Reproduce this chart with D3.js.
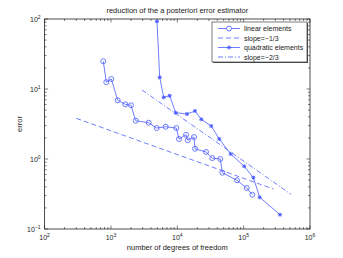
<!DOCTYPE html>
<html>
<head>
<meta charset="utf-8">
<script src="https://cdn.jsdelivr.net/npm/d3@7"></script>
<style>
  body { margin: 0; background: #fff; }
  svg text { font-family: "Liberation Sans", "DejaVu Sans", sans-serif; fill: #222; }
</style>
</head>
<body>
<div id="chart"></div>
<script>
// degrees of freedom / error
var linDofs = [767, 851, 1012, 1264, 1645, 2005, 2360, 3707, 4894, 6690, 9660, 10600, 13530, 14350, 17860, 18500, 27100, 33700, 44500, 47700, 79400, 111000, 135000];
var linErr  = [24.9, 12.5, 13.9, 6.9, 6.04, 5.85, 3.52, 3.30, 2.77, 2.89, 2.77, 1.93, 2.22, 1.85, 2.06, 1.40, 1.26, 1.03, 1.0, 0.637, 0.496, 0.385, 0.309];
var quadDofs = [4940, 5430, 6240, 7680, 9460, 14000, 18500, 23000, 32500, 42900, 63800, 102000, 140000, 174500, 353000];
var quadErr  = [92.6, 14.7, 7.61, 8.01, 4.58, 4.39, 4.85, 3.69, 2.96, 1.93, 1.18, 0.787, 0.541, 0.284, 0.16];
// reference slopes (end points)
var slope1Dofs = [300, 280000];
var slope1Err  = [3.81, 0.373];
var slope2Dofs = [2940, 518000];
var slope2Err  = [9.68, 0.313];

var xTicks = [1e2, 1e3, 1e4, 1e5, 1e6];
var yTicks = [1e-1, 1e0, 1e1, 1e2];
var legendLabels = ["linear elements", "slope=\u22121/3", "quadratic elements", "slope=\u22122/3"];

var W = 343, H = 258;
var margin = {top: 19, right: 33, bottom: 29, left: 44.6};
var width = W - margin.left - margin.right,
    height = H - margin.top - margin.bottom;
var blue = "#4a5cff";

var svg = d3.select("#chart").append("svg")
  .attr("width", W)
  .attr("height", H);

var g = svg.append("g")
  .attr("transform", "translate(" + margin.left + "," + margin.top + ")");

var x = d3.scaleLog().domain([1e2, 1e6]).range([0, width]);
var y = d3.scaleLog().domain([1e-1, 1e2]).range([height, 0]);

// minor ticks
var xMinor = [], yMinor = [];
for (var e = 2; e < 6; e++) for (var k = 2; k < 10; k++) xMinor.push(k * Math.pow(10, e));
for (var e = -1; e < 2; e++) for (var k = 2; k < 10; k++) yMinor.push(k * Math.pow(10, e));

function tickLines(vals, len, major) {
  vals.forEach(function(v) {
    var px = x(v);
    g.append("line").attr("x1", px).attr("x2", px).attr("y1", height).attr("y2", height - len)
      .attr("stroke", "#222").attr("stroke-width", 0.6);
    g.append("line").attr("x1", px).attr("x2", px).attr("y1", 0).attr("y2", len)
      .attr("stroke", "#222").attr("stroke-width", 0.6);
  });
}
function tickLinesY(vals, len) {
  vals.forEach(function(v) {
    var py = y(v);
    g.append("line").attr("y1", py).attr("y2", py).attr("x1", 0).attr("x2", len)
      .attr("stroke", "#222").attr("stroke-width", 0.6);
    g.append("line").attr("y1", py).attr("y2", py).attr("x1", width).attr("x2", width - len)
      .attr("stroke", "#222").attr("stroke-width", 0.6);
  });
}
tickLines(xMinor, 2);
tickLines(xTicks, 3.5);
tickLinesY(yMinor, 2);
tickLinesY(yTicks, 3.5);

// box
g.append("rect").attr("x", 0).attr("y", 0).attr("width", width).attr("height", height)
  .attr("fill", "none").attr("stroke", "#222").attr("stroke-width", 0.8);

// tick labels
xTicks.forEach(function(v) {
  var t = g.append("text").attr("x", x(v)).attr("y", height + 11)
    .attr("text-anchor", "middle").attr("font-size", 7);
  t.append("tspan").text("10");
  t.append("tspan").attr("dy", -3).attr("font-size", 5).text(Math.round(Math.log10(v)));
});
yTicks.forEach(function(v) {
  var p = Math.round(Math.log10(v));
  var t = g.append("text").attr("x", -4).attr("y", y(v) + 2.5)
    .attr("text-anchor", "end").attr("font-size", 7);
  t.append("tspan").text("10");
  t.append("tspan").attr("dy", -3).attr("font-size", 5).text(p < 0 ? "\u22121" : p);
});

// labels
svg.append("text").attr("x", margin.left + width / 2).attr("y", 13)
  .attr("text-anchor", "middle").attr("font-size", 7.5)
  .text("reduction of the a posteriori error estimator");
svg.append("text").attr("x", margin.left + width / 2).attr("y", 250)
  .attr("text-anchor", "middle").attr("font-size", 7.5)
  .text("number of degrees of freedom");
svg.append("text").attr("transform", "translate(22," + (margin.top + height / 2) + ") rotate(-90)")
  .attr("text-anchor", "middle").attr("font-size", 7.5)
  .text("error");

var line = d3.line().x(function(d) { return x(d[0]); }).y(function(d) { return y(d[1]); });

// slope lines
g.append("path").datum(d3.zip(slope1Dofs, slope1Err)).attr("d", line)
  .attr("fill", "none").attr("stroke", blue).attr("stroke-width", 0.8)
  .attr("stroke-dasharray", "5,3");
g.append("path").datum(d3.zip(slope2Dofs, slope2Err)).attr("d", line)
  .attr("fill", "none").attr("stroke", blue).attr("stroke-width", 0.8)
  .attr("stroke-dasharray", "5,2,1,2");

// linear elements
var linData = d3.zip(linDofs, linErr);
g.append("path").datum(linData).attr("d", line)
  .attr("fill", "none").attr("stroke", blue).attr("stroke-width", 0.8);
g.selectAll(".lin").data(linData).enter().append("circle")
  .attr("class", "lin")
  .attr("cx", function(d) { return x(d[0]); })
  .attr("cy", function(d) { return y(d[1]); })
  .attr("r", 2.5)
  .attr("fill", "none").attr("stroke", blue).attr("stroke-width", 0.8);

// quadratic elements
var star = "M-2,0L2,0M0,-2L0,2M-1.5,-1.5L1.5,1.5M-1.5,1.5L1.5,-1.5";
var quadData = d3.zip(quadDofs, quadErr);
g.append("path").datum(quadData).attr("d", line)
  .attr("fill", "none").attr("stroke", blue).attr("stroke-width", 0.8);
g.selectAll(".quad").data(quadData).enter().append("path")
  .attr("class", "quad")
  .attr("transform", function(d) { return "translate(" + x(d[0]) + "," + y(d[1]) + ")"; })
  .attr("d", star)
  .attr("stroke", blue).attr("stroke-width", 1);

// legend
var lg = svg.append("g").attr("transform", "translate(212,22)");
lg.append("rect").attr("x", 1).attr("y", 1).attr("width", 95).attr("height", 40)
  .attr("fill", "#555");
lg.append("rect").attr("x", 0).attr("y", 0).attr("width", 95).attr("height", 40)
  .attr("fill", "#fff").attr("stroke", "#222").attr("stroke-width", 0.6);
legendLabels.forEach(function(lab, i) {
  var yy = 6.5 + i * 9.5;
  var ln = lg.append("line").attr("x1", 6).attr("x2", 28).attr("y1", yy).attr("y2", yy)
    .attr("stroke", blue).attr("stroke-width", 0.8);
  if (i == 1) ln.attr("stroke-dasharray", "5,3");
  if (i == 3) ln.attr("stroke-dasharray", "5,2,1,2");
  if (i == 0) lg.append("circle").attr("cx", 17).attr("cy", yy).attr("r", 2.5)
    .attr("fill", "#fff").attr("stroke", blue).attr("stroke-width", 0.8);
  if (i == 2) lg.append("path").attr("transform", "translate(17," + yy + ")").attr("d", star)
    .attr("stroke", blue).attr("stroke-width", 1);
  lg.append("text").attr("x", 32).attr("y", yy + 2.5).attr("font-size", 7).text(lab);
});
</script>
</body>
</html>
